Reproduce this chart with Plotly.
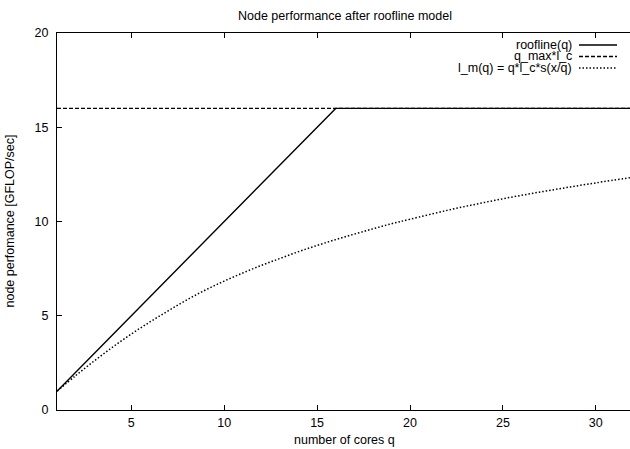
import plotly.graph_objects as go

# ---- data ----
roof_q = [1, 16, 32]
roof_v = [1, 16, 16]

qmax_q = [1, 32]
qmax_v = [16, 16]

lm_q = [1, 2, 3, 4, 5, 6, 7, 8, 9, 10, 11, 12, 13, 14, 15, 16, 17, 18, 19, 20,
        22, 24, 26, 28, 30, 32]
lm_v = [1.00, 1.82, 2.60, 3.34, 4.03, 4.67, 5.27, 5.85, 6.37, 6.84, 7.27, 7.67,
        8.04, 8.40, 8.73, 9.04, 9.33, 9.61, 9.88, 10.12, 10.59, 11.01, 11.39,
        11.73, 12.05, 12.35]

x_ticks = [5, 10, 15, 20, 25, 30]
y_ticks = [0, 5, 10, 15, 20]

legend_names = ["roofline(q)", "q_max*l_c", "l_m(q) = q*l_c*s(x/q)"]
legend_dash = ["solid", "4px,2px", "1.5px,2px"]

FONT = "Liberation Sans, Arial, sans-serif"
FS = 12.5

W, H = 630, 449
ML, MR, MT, MB = 57, 0, 33, 39
PW, PH = W - ML - MR, H - MT - MB

fig = go.Figure()
fig.add_trace(go.Scatter(x=qmax_q, y=qmax_v, mode="lines",
                         line=dict(color="black", width=1.2, dash=legend_dash[1]),
                         name=legend_names[1], hoverinfo="skip"))
fig.add_trace(go.Scatter(x=lm_q, y=lm_v, mode="lines", line_shape="spline",
                         line=dict(color="black", width=1.5, dash=legend_dash[2]),
                         name=legend_names[2], hoverinfo="skip"))
fig.add_trace(go.Scatter(x=roof_q, y=roof_v, mode="lines",
                         line=dict(color="black", width=1.4, dash="solid"),
                         name=legend_names[0], hoverinfo="skip"))

def px_to_paper_x(px):
    return (px - ML) / PW

def py_to_paper_y(py):
    return (H - MB - py) / PH

annotations = []
shapes = []
rows = [45, 56.5, 68]
for name, dash, py in zip(legend_names, legend_dash, rows):
    annotations.append(dict(text=name, xref="paper", yref="paper",
                            x=px_to_paper_x(574), y=py_to_paper_y(py),
                            xanchor="right", yanchor="middle", showarrow=False,
                            font=dict(family=FONT, size=FS, color="black")))
    shapes.append(dict(type="line", xref="paper", yref="paper",
                       x0=px_to_paper_x(579), x1=px_to_paper_x(617),
                       y0=py_to_paper_y(py), y1=py_to_paper_y(py),
                       line=dict(color="black", width=1.3 if dash != "solid" else 1.4,
                                 dash=dash)))

# title
annotations.append(dict(text="Node performance after roofline model",
                        xref="x", yref="paper", x=16.5, y=py_to_paper_y(16),
                        xanchor="center", yanchor="middle", showarrow=False,
                        font=dict(family=FONT, size=FS, color="black")))
# x-axis title
annotations.append(dict(text="number of cores q",
                        xref="x", yref="paper", x=16.5, y=py_to_paper_y(440),
                        xanchor="center", yanchor="middle", showarrow=False,
                        font=dict(family=FONT, size=FS, color="black")))
# y-axis title
annotations.append(dict(text="node perfomance [GFLOP/sec]",
                        xref="paper", yref="y", x=px_to_paper_x(9), y=10,
                        xanchor="center", yanchor="middle", showarrow=False,
                        textangle=-90,
                        font=dict(family=FONT, size=FS, color="black")))

fig.update_layout(
    width=W, height=H,
    margin=dict(l=ML, r=MR, t=MT, b=MB),
    paper_bgcolor="white", plot_bgcolor="white",
    showlegend=False,
    font=dict(family=FONT, size=FS, color="black"),
    annotations=annotations,
    shapes=shapes,
    xaxis=dict(range=[1, 1 + PW / 18.58], tickvals=x_ticks, ticks="inside",
               ticklen=5, tickcolor="black", showgrid=False, zeroline=False,
               showline=True, linecolor="black", linewidth=1, mirror="ticks",
               ticklabelstandoff=1, tickfont=dict(family=FONT, size=FS)),
    yaxis=dict(range=[0, 20], tickvals=y_ticks, ticks="inside", ticklen=5,
               tickcolor="black", showgrid=False, zeroline=False,
               showline=True, linecolor="black", linewidth=1, mirror=False,
               ticklabelstandoff=5, tickfont=dict(family=FONT, size=FS)),
)

fig.write_html("out.html")
